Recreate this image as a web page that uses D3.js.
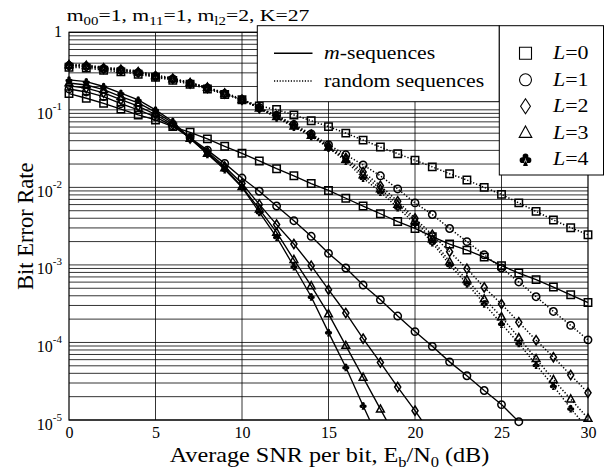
<!DOCTYPE html>
<html><head><meta charset="utf-8">
<script src="https://cdn.jsdelivr.net/npm/d3@7"></script>
<style>body{margin:0;background:#fff} svg{display:block}</style>
</head><body><svg id="c" width="612" height="473"></svg>
<script>
// ---------------- data ----------------
const snrDb = [0,1,2,3,4,5,6,7,8,9,10,11,12,13,14,15,16,17,18,19,20,21,22,23,24,25,26,27,28,29,30];
const xTicks = [0,5,10,15,20,25,30];
const yTickExps = [0,-1,-2,-3,-4,-5];
const diversityLabels = ["0","1","2","3","4"];
const lineStyleLabels = ["-sequences","random sequences"];

// m-sequences (solid)
const mSeqL0 = [0.162,0.141,0.121,0.102,0.0859,0.0741,0.0608,0.0513,0.0422,0.0339,0.0275,0.0219,0.0174,0.0141,0.0112,0.00912,0.00724,0.00575,0.00457,0.00363,0.00295,0.00232,0.00186,0.00155,0.00126,0.000977,0.000785,0.000646,0.000519,0.000412,0.000327];
const mSeqL1 = [0.186,0.170,0.148,0.120,0.100,0.0813,0.0617,0.0437,0.0302,0.0204,0.0132,0.00891,0.00575,0.00372,0.00234,0.00141,0.000912,0.000550,0.000355,0.000219,0.000138,0.0000891,0.0000562,0.0000372,0.0000240,0.0000158,0.0000095];
const mSeqL2 = [0.204,0.191,0.166,0.135,0.112,0.0871,0.0646,0.0427,0.0288,0.0186,0.0112,0.00603,0.00331,0.00186,0.000977,0.000479,0.000240,0.000112,0.0000550,0.0000266,0.0000132,0.0000063];
const mSeqL3 = [0.222,0.209,0.182,0.148,0.123,0.0933,0.0676,0.0427,0.0275,0.0178,0.0102,0.00525,0.00263,0.00117,0.000537,0.000234,0.0000912,0.0000355,0.0000138,0.0000054];
const mSeqL4 = [0.243,0.231,0.200,0.164,0.134,0.100,0.0708,0.0427,0.0269,0.0170,0.0100,0.00479,0.00229,0.000955,0.000389,0.000135,0.0000479,0.0000153,0.0000050];

// random sequences (dotted)
const randL0 = [0.355,0.347,0.324,0.309,0.288,0.263,0.240,0.214,0.186,0.158,0.135,0.112,0.101,0.0859,0.0724,0.0608,0.0501,0.0407,0.0331,0.0272,0.0224,0.0184,0.0150,0.01245,0.0100,0.00813,0.00631,0.00490,0.00380,0.00302,0.00245];
const randL1 = [0.372,0.363,0.339,0.324,0.302,0.269,0.251,0.219,0.191,0.162,0.135,0.107,0.0851,0.0646,0.0490,0.0355,0.0263,0.0195,0.0141,0.00955,0.00631,0.00447,0.00295,0.00200,0.00135,0.000912,0.000603,0.000389,0.000251,0.000166,0.000108];
const randL2 = [0.372,0.363,0.339,0.324,0.302,0.269,0.251,0.219,0.191,0.162,0.135,0.105,0.0832,0.0631,0.0479,0.0339,0.0240,0.0158,0.0105,0.00661,0.00398,0.00245,0.00148,0.000891,0.000513,0.000313,0.000182,0.000107,0.0000646,0.0000380,0.0000224];
const randL3 = [0.380,0.372,0.347,0.331,0.309,0.275,0.251,0.224,0.195,0.162,0.135,0.105,0.0813,0.0617,0.0468,0.0331,0.0229,0.0145,0.00955,0.00603,0.00372,0.00214,0.00110,0.000646,0.000363,0.000214,0.000115,0.0000617,0.0000331,0.0000186,0.0000105];
const randL4 = [0.389,0.380,0.355,0.339,0.316,0.282,0.257,0.224,0.195,0.166,0.138,0.105,0.0794,0.0603,0.0457,0.0324,0.0219,0.0132,0.00871,0.00550,0.00339,0.00195,0.00100,0.000575,0.000316,0.000174,0.0000977,0.0000513,0.0000275,0.0000141,0.0000076];

// ---------------- drawing ----------------
const FONT = "'Liberation Serif','Times New Roman',Times,serif";
const svg = d3.select("#c").style("font-family", FONT);
const X0 = 69, X1 = 588, Y0 = 32.3, Y1 = 420;
const x = d3.scaleLinear().domain([0, 30]).range([X0, X1]);
const y = d3.scaleLog().domain([1e-5, 1]).range([Y1, Y0]);

svg.append("rect").attr("width", 612).attr("height", 473).attr("fill", "#fff");

svg.append("defs").append("clipPath").attr("id", "clip")
  .append("rect").attr("x", X0).attr("y", Y0).attr("width", X1 - X0).attr("height", Y1 - Y0);

// grid
const grid = svg.append("g").attr("stroke", "#000").attr("stroke-width", 0.8);
const gridVals = [];
yTickExps.slice().reverse().forEach(e => {
  if (e === 0) { gridVals.push(1); return; }
  for (let k = 1; k <= 9; k++) gridVals.push(k * Math.pow(10, e));
});
grid.selectAll("line.h").data(gridVals).join("line").attr("class", "h")
  .attr("x1", X0).attr("x2", X1).attr("y1", d => y(d)).attr("y2", d => y(d));
grid.selectAll("line.v").data(xTicks.slice(1, -1)).join("line").attr("class", "v")
  .attr("y1", Y0).attr("y2", Y1).attr("x1", d => x(d)).attr("x2", d => x(d));

// marker shapes
const shapes = {
  square: s => `M${-s/2},${-s/2}h${s}v${s}h${-s}Z`,
  circle: s => { const r = s/2; return `M${-r},0a${r},${r} 0 1,0 ${2*r},0a${r},${r} 0 1,0 ${-2*r},0Z`; },
  diamond: s => { const w = s*0.82, h = s*1.25; return `M0,${-h/2}L${w/2},0L0,${h/2}L${-w/2},0Z`; },
  triangle: s => { const w = s*1.05, h = s*0.95; return `M0,${-h*0.6}L${w/2},${h*0.4}L${-w/2},${h*0.4}Z`; },
  club: s => {
    const r = s*0.24;
    const c = (cx, cy) => `M${cx-r},${cy}a${r},${r} 0 1,0 ${2*r},0a${r},${r} 0 1,0 ${-2*r},0Z`;
    return c(0, -s*0.25) + c(-s*0.25, s*0.07) + c(s*0.25, s*0.07) +
      `M0,${-s*0.1}L${s*0.2},${s*0.55}L${-s*0.2},${s*0.55}Z`;
  }
};
const markerTypes = ["square", "circle", "diamond", "triangle", "club"];

const series = [
  {v: mSeqL0, dotted: false, m: 0}, {v: mSeqL1, dotted: false, m: 1}, {v: mSeqL2, dotted: false, m: 2},
  {v: mSeqL3, dotted: false, m: 3}, {v: mSeqL4, dotted: false, m: 4},
  {v: randL0, dotted: true, m: 0}, {v: randL1, dotted: true, m: 1}, {v: randL2, dotted: true, m: 2},
  {v: randL3, dotted: true, m: 3}, {v: randL4, dotted: true, m: 4}
];

const line = d3.line().x((d, i) => x(snrDb[i])).y(d => y(d));
const plot = svg.append("g").attr("clip-path", "url(#clip)");
series.forEach(s => {
  plot.append("path").attr("d", line(s.v)).attr("fill", "none").attr("stroke", "#000")
    .attr("stroke-width", s.dotted ? 1.5 : 1.35)
    .attr("stroke-dasharray", s.dotted ? "1.3,1.9" : null);
});
const marks = svg.append("g");
series.forEach(s => {
  const type = markerTypes[s.m];
  s.v.forEach((d, i) => {
    if (d < 0.95e-5) return;
    marks.append("path").attr("d", shapes[type](7.4))
      .attr("transform", `translate(${x(snrDb[i])},${y(d)})`)
      .attr("fill", type === "club" ? "#000" : "none")
      .attr("stroke", type === "club" ? "none" : "#000")
      .attr("stroke-width", 1.5);
  });
});

// frame
svg.append("rect").attr("x", X0).attr("y", Y0).attr("width", X1 - X0).attr("height", Y1 - Y0)
  .attr("fill", "none").attr("stroke", "#000").attr("stroke-width", 1.2);

// x axis labels
const xAxis = svg.append("g").attr("transform", `translate(0,${Y1})`)
  .call(d3.axisBottom(x).tickValues(xTicks).tickSize(0).tickPadding(7).tickFormat(d3.format("d")));
xAxis.select(".domain").remove();
xAxis.selectAll("text").attr("font-family", FONT).attr("font-size", 16).attr("fill", "#000");

// y labels
yTickExps.forEach(e => {
  const v = Math.pow(10, e);
  if (e === 0) {
    svg.append("text").attr("x", 62).attr("y", y(v) + 5).attr("text-anchor", "end")
      .attr("font-size", 16).text("1");
  } else {
    const t = svg.append("text").attr("x", 62).attr("y", y(v) + 9.5).attr("text-anchor", "end").attr("font-size", 16);
    t.append("tspan").text("10");
    t.append("tspan").attr("dy", -9).attr("font-size", 11).text(String(e));
  }
});

// rich text helper
function rich(sel, parts, sub, subDy) {
  parts.forEach(p => {
    const ts = sel.append("tspan").text(p.t);
    if (p.sub) ts.attr("font-size", sub).attr("dy", subDy);
    else if (p.back) ts.attr("dy", -subDy);
    if (p.it) ts.attr("font-style", "italic");
  });
}
// stretched text group
function stretched(px, py, sx) {
  return svg.append("g").attr("transform", `translate(${px},${py}) scale(${sx},1)`);
}

// title
const title = stretched(66.7, 20.7, 1.24).append("text").attr("font-size", 17.5);
rich(title, [{t: "m"}, {t: "00", sub: 1}, {t: "=1, m", back: 1}, {t: "11", sub: 1}, {t: "=1, m", back: 1},
  {t: "l2", sub: 1}, {t: "=2, K=27", back: 1}], 12, 4);

// x title
const xt = stretched((X0 + X1) / 2 + 1, 461.5, 1.1).append("text").attr("text-anchor", "middle").attr("font-size", 22);
rich(xt, [{t: "Average SNR per bit, E"}, {t: "b", sub: 1}, {t: "/N", back: 1}, {t: "0", sub: 1}, {t: " (dB)", back: 1}], 15, 5);

// y title
svg.append("text").attr("transform", `translate(32.5,${(Y0 + Y1) / 2}) rotate(-90)`)
  .attr("text-anchor", "middle").attr("font-size", 22.5).text("Bit Error Rate");

// legend 1
const lg1 = svg.append("g");
lg1.append("rect").attr("x", 257.3).attr("y", 25.7).attr("width", 242).attr("height", 76)
  .attr("fill", "#fff").attr("stroke", "#000").attr("stroke-width", 1);
lineStyleLabels.forEach((lab, i) => {
  const yy = 53.3 + i * 27.7;
  lg1.append("line").attr("x1", 274).attr("x2", 312.5).attr("y1", yy).attr("y2", yy)
    .attr("stroke", "#000").attr("stroke-width", 1.5).attr("stroke-dasharray", i ? "1.2,1.6" : null);
  const t = stretched(324, yy + 6, 1.21).append("text").attr("font-size", 18);
  if (i === 0) t.append("tspan").attr("font-style", "italic").text("m");
  t.append("tspan").text(lab);
});

// legend 2
const lg2 = svg.append("g");
lg2.append("rect").attr("x", 499.3).attr("y", 25.7).attr("width", 104.2).attr("height", 149.3)
  .attr("fill", "#fff").attr("stroke", "#000").attr("stroke-width", 1);
diversityLabels.forEach((lab, i) => {
  const yy = 53.3 + i * 26.5;
  const type = markerTypes[i];
  lg2.append("path").attr("d", shapes[type](12)).attr("transform", `translate(525.5,${yy})`)
    .attr("fill", type === "club" ? "#000" : "none").attr("stroke", type === "club" ? "none" : "#000").attr("stroke-width", 1.1);
  const t = stretched(553, yy + 6, 1.22).append("text").attr("font-size", 18);
  t.append("tspan").attr("font-style", "italic").text("L");
  t.append("tspan").text("=" + lab);
});
</script>
</body></html>
